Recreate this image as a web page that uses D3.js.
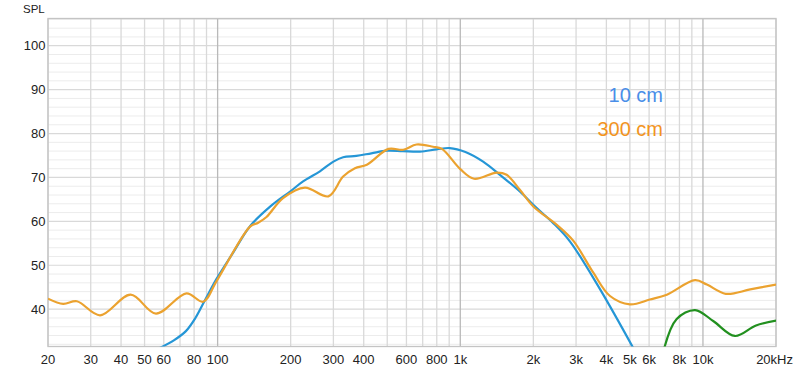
<!DOCTYPE html>
<html>
<head>
<meta charset="utf-8">
<script src="https://cdn.jsdelivr.net/npm/d3@7"></script>
<style>
  body { margin: 0; background: #fff; }
  svg { font-family: "Liberation Sans", Arial, Helvetica, sans-serif; }
</style>
</head>
<body>
<svg id="chart" width="800" height="373"></svg>
<script>

// 10 cm measurement
var nearFreq = [57, 66, 74, 81, 88, 99, 115, 136, 165, 199, 225, 264, 300, 329, 373, 430, 498, 580, 682, 800, 905, 1050, 1242, 1456, 1760, 2050, 2416, 2834, 3770, 5300];
var nearSpl  = [31.0, 32.9, 35.0, 38.0, 41.7, 46.9, 52.6, 58.9, 63.4, 66.8, 69.1, 71.4, 73.6, 74.6, 74.9, 75.5, 76.1, 76.0, 75.9, 76.4, 76.7, 75.8, 73.6, 70.6, 66.8, 63.2, 59.6, 55.4, 44.5, 30.0];

// 300 cm measurement
var farFreq = [20, 23.1, 26.3, 32.8, 43.8, 55.7, 74.4, 87.2, 99, 136, 147, 159, 186, 229, 286, 329, 368, 412, 506, 582, 660, 772, 840, 1000, 1140, 1412, 1552, 1760, 2000, 2500, 2920, 3534, 4140, 5000, 6040, 7100, 9280, 10380, 12420, 15660, 20000];
var farSpl  = [42.4, 41.2, 41.8, 38.6, 43.3, 39.0, 43.6, 41.7, 46.4, 58.8, 59.7, 61.0, 65.3, 67.7, 65.7, 70.2, 72.1, 72.9, 76.5, 76.3, 77.5, 77.0, 76.5, 71.9, 69.7, 71.1, 70.6, 67.2, 63.4, 59.2, 55.6, 48.3, 43.0, 41.1, 42.2, 43.3, 46.6, 45.6, 43.5, 44.5, 45.6];

// extra trace above 7 kHz
var hiFreq = [6900, 7780, 9280, 11020, 13540, 16540, 20000];
var hiSpl  = [30.8, 37.7, 39.8, 37.3, 33.9, 36.3, 37.4];

var yTicks = [40, 50, 60, 70, 80, 90, 100];
var xTicks = [20, 30, 40, 50, 60, 80, 100, 200, 300, 400, 600, 800, 1000, 2000, 3000, 4000, 5000, 6000, 8000, 10000, 20000];
var xTickLabels = ["20", "30", "40", "50", "60", "80", "100", "200", "300", "400", "600", "800", "1k", "2k", "3k", "4k", "5k", "6k", "8k", "10k", "20kHz"];

var svg = d3.select("#chart");

var plotLeft = 48, plotRight = 776, plotTop = 18.5, plotBottom = 346.5;

var x = d3.scaleLog().domain([20, 20000]).range([plotLeft, plotRight]);
var y = d3.scaleLinear().domain([31.5, 106.2]).range([plotBottom, plotTop]);

// grid: vertical lines at 1..9 x each decade
var gridFreqs = [];
[10, 100, 1000, 10000].forEach(function(dec) {
    for (var m = 1; m <= 9; m++) {
        var f = dec * m;
        if (f >= 20 && f <= 20000) gridFreqs.push(f);
    }
});

// horizontal minor every 2 dB
var minorDb = d3.range(32, 107, 2).filter(function(v) { return v % 10 != 0; });

var grid = svg.append("g");

grid.selectAll(".hminor").data(minorDb).enter().append("line")
    .attr("x1", plotLeft).attr("x2", plotRight)
    .attr("y1", function(d) { return y(d); })
    .attr("y2", function(d) { return y(d); })
    .attr("stroke", "#ececec").attr("stroke-width", 1);

grid.selectAll(".hmajor").data(yTicks).enter().append("line")
    .attr("x1", plotLeft).attr("x2", plotRight)
    .attr("y1", function(d) { return y(d); })
    .attr("y2", function(d) { return y(d); })
    .attr("stroke", "#d9d9d9").attr("stroke-width", 1.2);

grid.selectAll(".v").data(gridFreqs).enter().append("line")
    .attr("x1", function(d) { return x(d); })
    .attr("x2", function(d) { return x(d); })
    .attr("y1", plotTop).attr("y2", plotBottom)
    .attr("stroke", function(d) { return (d == 100 || d == 1000 || d == 10000) ? "#b9b9b9" : "#d9d9d9"; })
    .attr("stroke-width", 1.3);

grid.append("rect")
    .attr("x", plotLeft).attr("y", plotTop)
    .attr("width", plotRight - plotLeft).attr("height", plotBottom - plotTop)
    .attr("fill", "none").attr("stroke", "#c4c4c4").attr("stroke-width", 1.3);

// axis labels
svg.append("g").selectAll("text").data(yTicks).enter().append("text")
    .attr("x", 45.5)
    .attr("y", function(d) { return y(d) + 4.5; })
    .attr("text-anchor", "end")
    .attr("font-size", 13)
    .attr("fill", "#222")
    .text(function(d) { return d; });

svg.append("g").selectAll("text").data(xTicks).enter().append("text")
    .attr("x", function(d, i) { return i == xTicks.length - 1 ? 793 : x(d); })
    .attr("y", 364)
    .attr("text-anchor", function(d, i) { return i == xTicks.length - 1 ? "end" : "middle"; })
    .attr("font-size", 13)
    .attr("fill", "#222")
    .text(function(d, i) { return xTickLabels[i]; });

svg.append("text")
    .attr("x", 23).attr("y", 13)
    .attr("font-size", 11.5)
    .attr("fill", "#222")
    .text("SPL");

// curves
svg.append("clipPath").attr("id", "plotClip")
    .append("rect")
    .attr("x", plotLeft).attr("y", plotTop)
    .attr("width", plotRight - plotLeft).attr("height", plotBottom - plotTop);

var line = d3.line()
    .x(function(d) { return x(d[0]); })
    .y(function(d) { return y(d[1]); })
    .curve(d3.curveCatmullRom.alpha(0.5));

var curves = svg.append("g").attr("clip-path", "url(#plotClip)");

var series = [
    {f: nearFreq, v: nearSpl, color: "#2596d6"},
    {f: farFreq, v: farSpl, color: "#eba22f"},
    {f: hiFreq, v: hiSpl, color: "#22901f"}
];

series.forEach(function(s) {
    curves.append("path")
        .datum(d3.zip(s.f, s.v))
        .attr("d", line)
        .attr("fill", "none")
        .attr("stroke", s.color)
        .attr("stroke-width", 2.2)
        .attr("stroke-linejoin", "round");
});

// legend
svg.append("text")
    .attr("x", 663).attr("y", 102)
    .attr("text-anchor", "end")
    .attr("font-size", 20)
    .attr("fill", "#4a8ee8")
    .text("10 cm");

svg.append("text")
    .attr("x", 663).attr("y", 135.5)
    .attr("text-anchor", "end")
    .attr("font-size", 20)
    .attr("fill", "#f2941f")
    .text("300 cm");

</script>
</body>
</html>
